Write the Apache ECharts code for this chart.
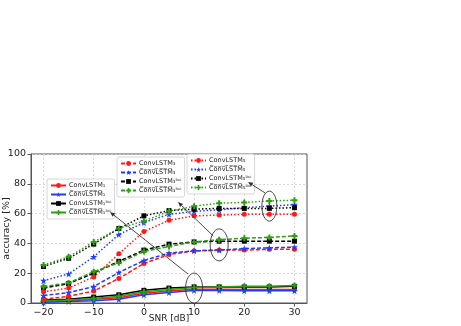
<!DOCTYPE html>
<html>
<head>
<meta charset="utf-8">
<script src="https://cdn.jsdelivr.net/npm/echarts@6/dist/echarts.min.js"></script>
<style>
  html, body { margin: 0; padding: 0; background: #fff; }
  #cc { width: 461px; height: 326px; }
</style>
</head>
<body>
<div id="cc"></div>
<script>
// SNR values on the x axis
var snr = [-20, -15, -10, -5, 0, 5, 10, 15, 20, 25, 30];
var xTicks = [-20, -10, 0, 10, 20, 30];

// ConvLSTM_1 family (solid)
var c1       = [1, 1.5, 2.5, 3.5, 6.5, 8, 9.3, 9.3, 9, 9, 9];
var c1Bar    = [0.5, 1, 1.5, 2.5, 5.5, 7, 8.4, 8.4, 8.2, 8.2, 8.2];
var c1Loc    = [2, 2.5, 4, 5.5, 8.5, 10, 10.8, 10.8, 10.8, 10.8, 11.2];
var c1BarLoc = [1.5, 2, 3, 4.5, 7.5, 9, 10.4, 10.8, 11.2, 11.2, 11.7];

// ConvLSTM_3 family (dashed)
var c3       = [2.5, 4.5, 8, 16.5, 26.5, 32.5, 35, 35.5, 35.5, 36, 36];
var c3Bar    = [5, 7, 11, 20.5, 28.5, 33.5, 35, 35.5, 36.5, 37, 37.5];
var c3Loc    = [10, 13, 20, 28, 35.5, 39.5, 41, 41.5, 41.5, 41.5, 41.5];
var c3BarLoc = [11, 13.5, 21, 27, 34.5, 38, 41, 42.5, 43.5, 44, 45];

// ConvLSTM_5 family (dotted)
var c5       = [7.5, 10, 17.5, 33, 48, 55.5, 58.5, 59, 59.5, 59.5, 59.5];
var c5Bar    = [15, 19.5, 31, 46, 54, 59.5, 61.5, 62.5, 64, 65, 66];
var c5Loc    = [24.5, 30, 39.5, 50, 58.5, 62, 63, 63.5, 63.5, 63.5, 64];
var c5BarLoc = [25.5, 31, 41, 50, 55, 61.5, 65, 67, 67.5, 68.5, 69];

var RED = '#ff1a1a', BLUE = '#1f3dff', BLACK = '#000000', GREEN = '#2ca010';
var STAR = 'path://M50,0 L61,35 L98,35 L68,57 L79,91 L50,70 L21,91 L32,57 L2,35 L39,35 Z';
var PLUS = 'path://M33,0 H67 V33 H100 V67 H67 V100 H33 V67 H0 V33 H33 Z';

function over(s) {
    return s.split('').map(function (ch) { return ch + '\u0305'; }).join('');
}
var SUB = { 1: '\u2081', 3: '\u2083', 5: '\u2085' };
var LOC = '\u02E1\u1D52\u1D9C';

function names(k) {
    return [
        'ConvLSTM' + SUB[k],
        over('ConvLSTM') + SUB[k],
        'ConvLSTM' + SUB[k] + LOC,
        over('ConvLSTM') + SUB[k] + LOC
    ];
}
var n1 = names(1), n3 = names(3), n5 = names(5);

function pairs(vals) {
    return snr.map(function (x, i) { return [x, vals[i]]; });
}

function mk(name, vals, color, symbol, size, dash) {
    return {
        name: name,
        type: 'line',
        data: pairs(vals),
        symbol: symbol,
        symbolSize: size,
        lineStyle: { color: color, width: 1.5, type: dash },
        itemStyle: { color: color },
        animation: false
    };
}

var DASHED = [4, 2];
var DOTTED = [1.5, 2];

var series = [
    mk(n1[0], c1, RED, 'circle', 5, 'solid'),
    mk(n1[1], c1Bar, BLUE, STAR, 7, 'solid'),
    mk(n1[2], c1Loc, BLACK, 'rect', 5, 'solid'),
    mk(n1[3], c1BarLoc, GREEN, PLUS, 6, 'solid'),
    mk(n3[0], c3, RED, 'circle', 5, DASHED),
    mk(n3[1], c3Bar, BLUE, STAR, 7, DASHED),
    mk(n3[2], c3Loc, BLACK, 'rect', 5, DASHED),
    mk(n3[3], c3BarLoc, GREEN, PLUS, 6, DASHED),
    mk(n5[0], c5, RED, 'circle', 5, DOTTED),
    mk(n5[1], c5Bar, BLUE, STAR, 7, DOTTED),
    mk(n5[2], c5Loc, BLACK, 'rect', 5, DOTTED),
    mk(n5[3], c5BarLoc, GREEN, PLUS, 6, DOTTED)
];

function legend(list, left, top) {
    return {
        orient: 'vertical',
        left: left,
        top: top,
        data: list,
        selectedMode: false,
        itemWidth: 15,
        itemHeight: 6,
        itemGap: 2,
        padding: [3, 3, 3, 3],
        backgroundColor: 'rgba(255,255,255,0.85)',
        borderColor: '#cccccc',
        borderWidth: 0.8,
        borderRadius: 2,
        textStyle: { fontSize: 6.5, fontFamily: 'DejaVu Sans', color: '#222', padding: [0, 0, 0, -2] }
    };
}

var minus = function (v) { return String(v).replace('-', '\u2212'); };
var gridLine = { show: true, lineStyle: { color: '#cfcfcf', width: 0.8, type: [2, 2] } };
var axisCol = '#555';

var chart = echarts.init(document.getElementById('cc'));

var option = {
    animation: false,
    textStyle: { fontFamily: 'DejaVu Sans' },
    grid: {
        left: 31, right: 154, top: 154, bottom: 23,
        containLabel: false,
        outerBoundsMode: 'none',
        show: true, borderColor: axisCol, borderWidth: 1, backgroundColor: 'transparent'
    },
    legend: [legend(n1, 47, 179), legend(n3, 117, 157), legend(n5, 187, 154)],
    xAxis: {
        type: 'value',
        min: -22.5,
        max: 32.5,
        name: 'SNR [dB]',
        nameLocation: 'middle',
        nameGap: 16,
        nameMoveOverlap: false,
        nameTextStyle: { fontSize: 9, color: '#222', verticalAlign: 'middle' },
        axisLine: { show: true, onZero: false, lineStyle: { color: axisCol } },
        axisTick: { show: true, length: 3.5, customValues: xTicks, lineStyle: { color: axisCol } },
        axisLabel: { customValues: xTicks, fontSize: 9.5, color: '#222', margin: 5, formatter: minus },
        splitLine: gridLine
    },
    yAxis: {
        type: 'value',
        min: 0,
        max: 100,
        interval: 20,
        name: 'accuracy [%]',
        nameLocation: 'middle',
        nameGap: 19,
        nameMoveOverlap: false,
        nameRotate: 90,
        nameTextStyle: { fontSize: 9.5, color: '#222' },
        axisLine: { show: true, onZero: false, lineStyle: { color: axisCol } },
        axisTick: { show: true, length: 3.5, lineStyle: { color: axisCol } },
        axisLabel: { fontSize: 9.5, color: '#222', margin: 5 },
        splitLine: gridLine
    },
    series: series
};

chart.setOption(option);

// annotations: ellipses around groups and arrows pointing to their legends
function arrow(tail, head) {
    var dx = head[0] - tail[0], dy = head[1] - tail[1];
    var len = Math.sqrt(dx * dx + dy * dy);
    var ux = dx / len, uy = dy / len;
    var px = -uy, py = ux;
    var b = [head[0] - 5 * ux, head[1] - 5 * uy];
    return [
        { type: 'line', shape: { x1: tail[0], y1: tail[1], x2: b[0], y2: b[1] }, style: { stroke: '#333', lineWidth: 0.9 }, z: 100 },
        { type: 'polygon', shape: { points: [head, [b[0] + 2.2 * px, b[1] + 2.2 * py], [b[0] - 2.2 * px, b[1] - 2.2 * py]] }, style: { fill: '#333' }, z: 100 }
    ];
}

var e1 = chart.convertToPixel({ gridIndex: 0 }, [10, 10]);
var e2 = chart.convertToPixel({ gridIndex: 0 }, [15, 39]);
var e3 = chart.convertToPixel({ gridIndex: 0 }, [25, 65]);

var graphic = [
    { type: 'ellipse', shape: { cx: e1[0], cy: e1[1], rx: 8.5, ry: 15 }, style: { fill: 'none', stroke: '#333', lineWidth: 0.9 }, z: 100 },
    { type: 'ellipse', shape: { cx: e2[0], cy: e2[1], rx: 9, ry: 16 }, style: { fill: 'none', stroke: '#333', lineWidth: 0.9 }, z: 100 },
    { type: 'ellipse', shape: { cx: e3[0], cy: e3[1], rx: 7.5, ry: 15 }, style: { fill: 'none', stroke: '#333', lineWidth: 0.9 }, z: 100 }
];
graphic = graphic
    .concat(arrow([e1[0] - 6, e1[1] - 14], [110, 212]))
    .concat(arrow([e2[0] - 6, e2[1] - 9], [178, 202]))
    .concat(arrow([e3[0] - 4, e3[1] - 13], [248, 182]));

chart.setOption({ graphic: graphic });
</script>
</body>
</html>
